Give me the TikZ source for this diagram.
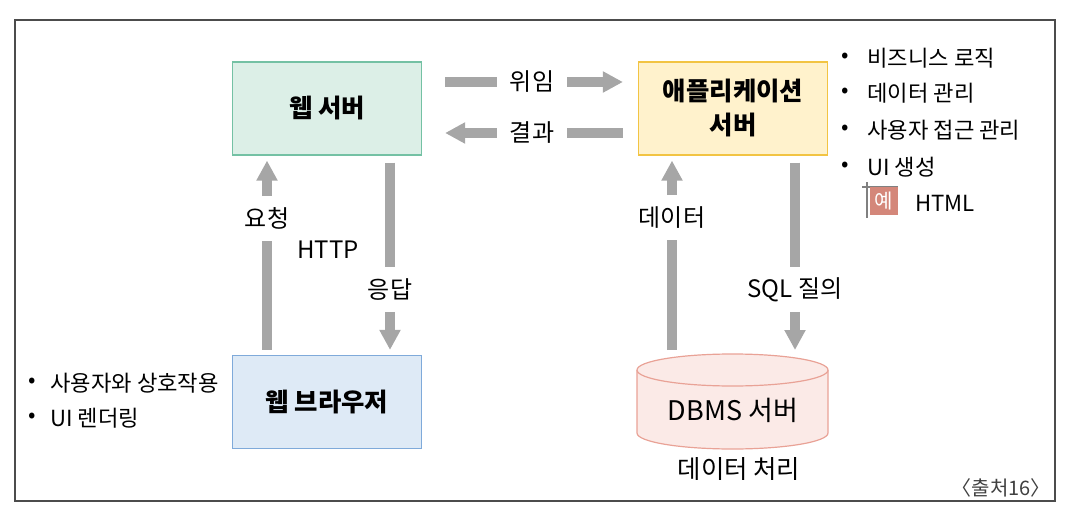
\documentclass[tikz,border=0pt]{standalone}
\usepackage{fontspec}
\setmainfont{Noto Sans CJK KR}
\usetikzlibrary{arrows.meta}

\definecolor{wsfill}{HTML}{DCEFE7}
\definecolor{wsline}{HTML}{74C1A4}
\definecolor{asfill}{HTML}{FFF2CC}
\definecolor{asline}{HTML}{F2C443}
\definecolor{wbfill}{HTML}{DEEAF6}
\definecolor{wbline}{HTML}{7FAADA}
\definecolor{dbfill}{HTML}{FBEAE7}
\definecolor{dbline}{HTML}{E9A296}
\definecolor{arrgray}{HTML}{A6A6A6}
\definecolor{exfill}{HTML}{D4877A}

\begin{document}
\begin{tikzpicture}[x=0.5pt, y=-0.5pt,
  box/.style={draw, line width=0.6pt, minimum width=94.5pt, minimum height=46.5pt,
              align=center, font=\fontsize{12.7}{17}\selectfont\bfseries},
  bar/.style={draw=arrgray, line width=5pt},
  bararr/.style={bar, -{Triangle[width=10pt, length=10pt]}},
  lbl/.style={inner sep=0pt, font=\fontsize{12}{14}\selectfont},
  hlbl/.style={lbl, minimum width=35pt},
  vlbl/.style={lbl, minimum height=22pt},
  item/.style={anchor=west, inner sep=0pt, font=\fontsize{11.1}{13}\selectfont},
  dot/.style={inner sep=0pt, font=\fontsize{11}{13}\selectfont}
]
  \useasboundingbox (0,0) rectangle (1076,508);
  \draw[black!70, line width=0.8pt] (15,20) rectangle (1055,501);

  % Servers and browser
  \node[box, fill=wsfill, draw=wsline] (ws) at (327,108.5) {웹 서버};
  \node[box, fill=asfill, draw=asline] (as) at (733,108.5) {애플리케이션\\서버};
  \node[box, fill=wbfill, draw=wbline] (wb) at (327,402) {웹 브라우저};

  % DBMS cylinder
  \fill[dbfill] (637,370) -- (637,433)
    arc[start angle=180, end angle=0, x radius=95.5, y radius=16] -- (828,370) -- cycle;
  \draw[dbline, line width=0.6pt] (637,370) -- (637,433)
    arc[start angle=180, end angle=0, x radius=95.5, y radius=16] -- (828,370);
  \filldraw[fill=dbfill, draw=dbline, line width=0.6pt] (732.5,370) ellipse[x radius=95.5, y radius=16];
  \node[font=\fontsize{13.5}{15}\selectfont] (db) at (733,410) {DBMS 서버};
  \coordinate (dbtop) at (732.5,354);
  \node[lbl, font=\fontsize{12.7}{15}\selectfont] (dbcap) at (739,469) {데이터 처리};

  % Web server <-> application server
  \node[hlbl] (dlg) at (532,82) {위임};
  \node[hlbl] (res) at (532,133) {결과};
  \draw[bar, shorten <=11.5pt] (ws.east |- dlg) -- (dlg.west);
  \draw[bararr, shorten >=7.5pt] (dlg.east) -- (as.west |- dlg);
  \draw[bar, shorten <=7.5pt] (as.west |- res) -- (res.east);
  \draw[bararr, shorten >=11.5pt] (res.west) -- (ws.east |- res);

  % Browser <-> web server
  \node[vlbl] (req) at (267,218.5) {요청};
  \node[vlbl] (ans) at (390,289.5) {응답};
  \node[lbl] (http) at (328,250) {HTTP};
  \draw[bar, shorten <=2.5pt] (wb.north -| req) -- (req.south);
  \draw[bararr, shorten >=2.5pt] (req.north) -- (ws.south -| req);
  \draw[bar, shorten <=3.5pt] (ws.south -| ans) -- (ans.north);
  \draw[bararr, shorten >=2.5pt] (ans.south) -- (wb.north -| ans);

  % Application server <-> DBMS
  \node[vlbl] (data) at (672,217.5) {데이터};
  \node[vlbl] (sql) at (795,289.5) {SQL 질의};
  \draw[bar, shorten <=2pt] (dbtop -| data) -- (data.south);
  \draw[bararr, shorten >=2.5pt] (data.north) -- (as.south -| data);
  \draw[bar, shorten <=3.5pt] (as.south -| sql) -- (sql.north);
  \draw[bararr, shorten >=2pt] (sql.south) -- (dbtop -| sql);

  % Application server roles
  \foreach \y/\t [count=\i] in {58/비즈니스 로직, 93/데이터 관리, 130/사용자 접근 관리, 167/UI 생성} {
    \node[dot] (rd\i) at (845,\y) {•};
    \node[item] (r\i) at (867,\y) {\t};
  }
  \draw[gray, line width=0.6pt] (867,182) -- (867,218);
  \draw[gray, line width=0.6pt] (862,187) -- (898,187);
  \node[fill=exfill, text=white, inner sep=0pt, minimum width=14pt, minimum height=14pt,
        font=\fontsize{10}{11}\selectfont] (ex) at (884,201) {예};
  \node[item] (html) at (915,203) {HTML};

  % Browser roles
  \foreach \y/\t [count=\i] in {383/사용자와 상호작용, 418/UI 렌더링} {
    \node[dot] (ld\i) at (32,\y) {•};
    \node[item] (l\i) at (50,\y) {\t};
  }

  \node[anchor=east, text=black!75, font=\fontsize{10}{12}\selectfont] (src) at (1058,488) {〈출처16〉};
\end{tikzpicture}
\end{document}
